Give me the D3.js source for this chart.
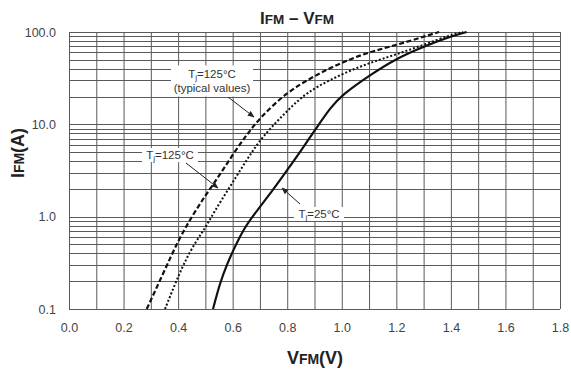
<!DOCTYPE html>
<html><head><meta charset="utf-8">
<script src="https://cdn.jsdelivr.net/npm/d3@7"></script>
<style>body{margin:0;background:#fff}svg{display:block;font-family:"Liberation Sans",Arial,sans-serif}</style>
</head><body>
<svg id="c" width="571" height="371"></svg>
<script>
const xTicks = [0.0,0.2,0.4,0.6,0.8,1.0,1.2,1.4,1.6,1.8];
const yTicks = [0.1,1,10,100];
const yTickLabels = ["0.1","1.0","10.0","100.0"];

// Tj = 25°C (solid)
const vSolid = [0.528,0.553,0.580,0.608,0.639,0.672,0.748,0.80,0.847,0.914,0.957,1.0,1.103,1.201,1.299,1.397,1.458];
const iSolid = [0.1,0.19,0.31,0.47,0.72,1.0,1.95,3.2,5.0,9.8,14.9,20.8,34.2,51.9,69.3,89,100];

// Tj = 125°C typical (dashed)
const vDash = [0.285,0.35,0.40,0.45,0.50,0.55,0.60,0.65,0.70,0.80,0.90,1.0,1.1,1.2,1.3,1.357];
const iDash = [0.1,0.26,0.55,1.0,1.7,2.75,4.7,7.6,11.8,22.5,33.5,47,60.5,72.3,89,100];

// Tj = 125°C (dotted)
const vDot = [0.352,0.370,0.395,0.419,0.456,0.499,0.529,0.590,0.651,0.700,0.761,0.804,0.847,0.908,1.006,1.103,1.201,1.299,1.397,1.445];
const iDot = [0.1,0.136,0.206,0.30,0.49,0.75,1.09,2.11,4.1,6.77,10.7,14.3,19.1,25.6,35.7,46.5,57.4,72.3,92.8,100];

const svg = d3.select("#c");
const L=69, R=560, T=32, B=309;
const x = d3.scaleLinear().domain([0,1.8]).range([L,R]);
const y = d3.scaleLog().domain([0.1,100]).range([B,T]);

// grid
const g = svg.append("g");
const vgrid = d3.range(0,19).map(k=>k/10);
g.selectAll(".vg").data(vgrid).enter().append("line")
 .attr("x1",d=>x(d)+0.5).attr("x2",d=>x(d)+0.5).attr("y1",T).attr("y2",B)
 .attr("stroke","#5a5a5a").attr("stroke-width",1);
const hgrid=[];
[0.1,1,10].forEach(dec=>{for(let m=1;m<=10;m++)hgrid.push(dec*m);});
g.selectAll(".hg").data(hgrid).enter().append("line")
 .attr("x1",L).attr("x2",R).attr("y1",d=>Math.round(y(d))+0.5).attr("y2",d=>Math.round(y(d))+0.5)
 .attr("stroke","#5a5a5a").attr("stroke-width",1);

// axes labels
const xa = d3.axisBottom(x).tickValues(xTicks).tickFormat(d3.format(".1f")).tickSize(0).tickPadding(14);
svg.append("g").attr("transform",`translate(0,${B})`).call(xa)
 .call(a=>a.select(".domain").remove())
 .selectAll("text").attr("font-size",12.5).attr("fill","#444").attr("font-family","Liberation Sans, Arial, sans-serif");
const ya = d3.axisLeft(y).tickValues(yTicks).tickFormat((d,i)=>yTickLabels[i]).tickSize(0).tickPadding(13);
svg.append("g").attr("transform",`translate(${L},0)`).call(ya)
 .call(a=>a.select(".domain").remove())
 .selectAll("text").attr("font-size",12.5).attr("fill","#444").attr("font-family","Liberation Sans, Arial, sans-serif");

// curves
const line = d3.line().x(d=>x(d[0])).y(d=>y(d[1])).curve(d3.curveBasis);
const zip=(a,b)=>a.map((v,i)=>[v,b[i]]);
svg.append("path").attr("d",line(zip(vSolid,iSolid))).attr("fill","none").attr("stroke","#111").attr("stroke-width",2.2);
svg.append("path").attr("d",line(zip(vDash,iDash))).attr("fill","none").attr("stroke","#111").attr("stroke-width",2.2).attr("stroke-dasharray","5,2.5");
svg.append("path").attr("d",line(zip(vDot,iDot))).attr("fill","none").attr("stroke","#111").attr("stroke-width",2).attr("stroke-dasharray","2,2");

// arrow marker
svg.append("defs").append("marker").attr("id","ah").attr("viewBox","0 0 10 10").attr("refX",9).attr("refY",5)
 .attr("markerWidth",7).attr("markerHeight",7).attr("orient","auto")
 .append("path").attr("d","M0,1 L10,5 L0,9 Z").attr("fill","#222");

function label(cx,cy,lines,w,h){
  svg.append("rect").attr("x",cx-w/2).attr("y",cy-h/2).attr("width",w).attr("height",h).attr("fill","#fff");
  lines.forEach((ln,k)=>{
    const t=svg.append("text").attr("x",cx).attr("y",cy-(lines.length-1)*7+k*14+4).attr("text-anchor","middle")
      .attr("font-size",11.5).attr("fill","#333");
    if(ln.sub){
      t.append("tspan").text("T");
      t.append("tspan").text("j").attr("font-size",8).attr("dy",2);
      t.append("tspan").text(ln.rest).attr("dy",-2);
    } else t.text(ln.text);
  });
}
function arrow(x1,y1,x2,y2){
  svg.append("line").attr("x1",x1).attr("y1",y1).attr("x2",x2).attr("y2",y2).attr("stroke","#222").attr("stroke-width",1).attr("marker-end","url(#ah)");
}
arrow(228,97,254,117);
arrow(186,163,218,188);
arrow(300,204,282,188);
label(212,81,[{sub:true,rest:"=125°C"},{text:"(typical values)"}],82,31);
label(170,155,[{sub:true,rest:"=125°C"}],56,14);
label(319,214,[{sub:true,rest:"=25°C"}],50,14);

// titles
const tt=svg.append("text").attr("x",297).attr("y",24).attr("text-anchor","middle").attr("font-weight","bold").attr("fill","#222");
tt.append("tspan").text("I").attr("font-size",17);
tt.append("tspan").text("FM").attr("font-size",13.5);
tt.append("tspan").text(" \u2013 ").attr("font-size",17);
tt.append("tspan").text("V").attr("font-size",17);
tt.append("tspan").text("FM").attr("font-size",13.5);

const xt=svg.append("text").attr("x",315).attr("y",364).attr("text-anchor","middle").attr("font-weight","bold").attr("fill","#222");
xt.append("tspan").text("V").attr("font-size",18);
xt.append("tspan").text("FM").attr("font-size",14);
xt.append("tspan").text("(V)").attr("font-size",18);

const yt=svg.append("text").attr("transform","translate(24,153) rotate(-90)").attr("text-anchor","middle").attr("font-weight","bold").attr("fill","#222");
yt.append("tspan").text("I").attr("font-size",18);
yt.append("tspan").text("FM").attr("font-size",14);
yt.append("tspan").text("(A)").attr("font-size",18);
</script>
</body></html>
